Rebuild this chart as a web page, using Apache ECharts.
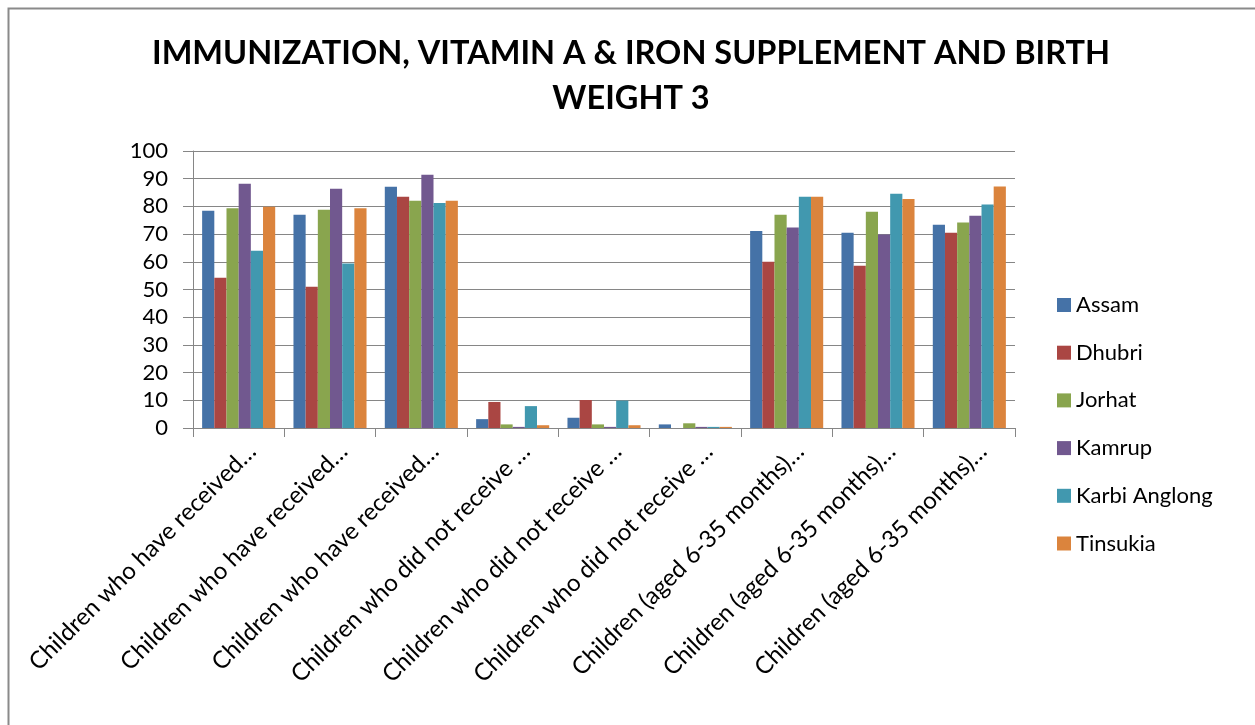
<!DOCTYPE html>
<html>
<head>
<meta charset="utf-8">
<script src="https://cdn.jsdelivr.net/npm/echarts@6/dist/echarts.min.js"></script>
<style>html,body{margin:0;padding:0;background:#fff;}#c{width:1255px;height:725px;}</style>
</head>
<body>
<div id="c"></div>
<script>
const titleText = 'IMMUNIZATION, VITAMIN A & IRON SUPPLEMENT AND BIRTH\nWEIGHT 3';
const categories = [
  'Children who have received…',
  'Children who have received…',
  'Children who have received…',
  'Children who did not receive …',
  'Children who did not receive …',
  'Children who did not receive …',
  'Children (aged 6-35 months)…',
  'Children (aged 6-35 months)…',
  'Children (aged 6-35 months)…'
];
const seriesNames = ['Assam', 'Dhubri', 'Jorhat', 'Kamrup', 'Karbi Anglong', 'Tinsukia'];
const assam    = [78.4, 77.0, 87.1, 3.2, 3.7, 1.3, 71.1, 70.5, 73.4];
const dhubri   = [54.2, 51.0, 83.5, 9.4, 10.1, 0,  60.0, 58.6, 70.5];
const jorhat   = [79.3, 78.8, 82.0, 1.3, 1.3, 1.7, 77.0, 78.1, 74.2];
const kamrup   = [88.2, 86.4, 91.4, 0.4, 0.4, 0.4, 72.4, 69.9, 76.6];
const karbi    = [64.0, 59.4, 81.2, 7.9, 9.9, 0.4, 83.5, 84.6, 80.7];
const tinsukia = [79.9, 79.3, 82.0, 1.0, 1.0, 0.4, 83.5, 82.7, 87.2];
const yTicks = {min: 0, max: 100, interval: 10};

const seriesData = [assam, dhubri, jorhat, kamrup, karbi, tinsukia];
const colors = ['#4572A7', '#AA4643', '#89A54E', '#71588F', '#4198AF', '#DB843D'];
const FONT = 'Lato, "Open Sans", sans-serif';

const chart = echarts.init(document.getElementById('c'), null, {renderer: 'canvas'});
chart.setOption({
  backgroundColor: '#fff',
  animation: false,
  color: colors,
  graphic: [{
    type: 'rect', left: 6, top: 6, silent: true,
    shape: {x: 0, y: 0, width: 1248, height: 740},
    style: {fill: 'none', stroke: '#8a8a8a', lineWidth: 2}
  }],
  title: {
    text: titleText,
    left: 626, top: 26, textAlign: 'center',
    textStyle: {fontFamily: FONT, fontWeight: 'bold', fontSize: 32.5, lineHeight: 45, color: '#000'}
  },
  legend: {
    orient: 'vertical', left: 1057, top: 294, padding: 0,
    itemWidth: 14, itemHeight: 14, itemGap: 25.7,
    icon: 'rect',
    textStyle: {fontFamily: FONT, fontSize: 22, lineHeight: 22, color: '#000'},
    data: seriesNames
  },
  grid: {left: 193, right: 240, top: 151, bottom: 297, containLabel: false},
  xAxis: {
    type: 'category', data: categories,
    axisLine: {lineStyle: {color: '#868686', width: 1}},
    axisTick: {show: true, length: 9, lineStyle: {color: '#868686'}},
    axisLabel: {rotate: 45, interval: 0, margin: 6, fontFamily: FONT, fontSize: 24, lineHeight: 38,
      verticalAlign: 'top', color: '#000'},
    splitLine: {show: false}
  },
  yAxis: {
    type: 'value', min: yTicks.min, max: yTicks.max, interval: yTicks.interval,
    axisLine: {show: true, lineStyle: {color: '#868686', width: 1}},
    axisTick: {show: true, length: 10, lineStyle: {color: '#868686'}},
    axisLabel: {margin: 25, fontFamily: FONT, fontSize: 22, color: '#000'},
    splitLine: {lineStyle: {color: '#868686', width: 1}}
  },
  series: seriesNames.map((n, i) => ({
    name: n, type: 'bar', data: seriesData[i],
    barGap: '0%', barCategoryGap: '20%'
  }))
});
</script>
</body>
</html>
